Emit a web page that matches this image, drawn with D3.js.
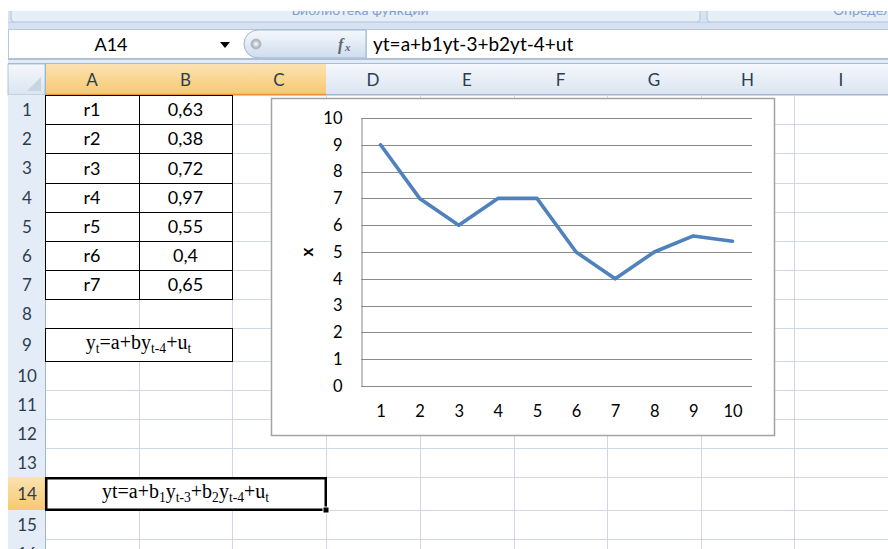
<!DOCTYPE html>
<html>
<head>
<meta charset="utf-8">
<script src="https://cdn.jsdelivr.net/npm/d3@7"></script>
<style>
  html, body { margin: 0; padding: 0; background: #fff; }
  svg { display: block; }
  .ui { font-family: Lato, "Noto Sans", sans-serif; }
</style>
</head>
<body>
<svg id="sheet" width="888" height="549"></svg>
<script>
// ---- sheet content ----
const rLabels = ["r1", "r2", "r3", "r4", "r5", "r6", "r7"];
const rValues = [0.63, 0.38, 0.72, 0.97, 0.55, 0.4, 0.65];
const nameBox = "A14";
const formulaText = "yt=a+b1yt-3+b2yt-4+ut";
// rich-text cell formulas: [text, isSubscript]
const formulaRow9 = [["y", 0], ["t", 1], ["=a+by", 0], ["t-4", 1], ["+u", 0], ["t", 1]];
const formulaRow14 = [["yt=a+b", 0], ["1", 1], ["y", 0], ["t-3", 1], ["+b", 0], ["2", 1], ["y", 0], ["t-4", 1], ["+u", 0], ["t", 1]];

// ---- chart series ----
const periods = [1, 2, 3, 4, 5, 6, 7, 8, 9, 10];
const xValues = [9, 7, 6, 7, 7, 5, 4, 5, 5.6, 5.4];
const yTicks = [0, 1, 2, 3, 4, 5, 6, 7, 8, 9, 10];
const yAxisTitle = "x";

// ---- grid geometry ----
const colNames = ["A", "B", "C", "D", "E", "F", "G", "H", "I"];
const colEdges = [45, 139, 232, 326, 420, 514, 607, 701, 794, 888];
const rowEdges = [95, 124, 153, 183, 212, 241, 270, 299, 328, 361, 390, 419, 448, 477, 510, 539, 568];
const selCols = ["A", "B", "C"];
const selRow = 14;

const svg = d3.select("#sheet");
const defs = svg.append("defs");

function vGrad(id, stops) {
  const g = defs.append("linearGradient").attr("id", id)
    .attr("x1", 0).attr("y1", 0).attr("x2", 0).attr("y2", 1);
  stops.forEach(([o, c]) => g.append("stop").attr("offset", o).attr("stop-color", c));
}
vGrad("hdr", [[0, "#f5f8fc"], [1, "#dae4f1"]]);
vGrad("hdrSel", [[0, "#fbe2b1"], [1, "#f7c970"]]);
vGrad("bubble", [[0, "#f4f8fd"], [0.5, "#e2ebf6"], [1, "#cddcee"]]);
vGrad("ribbon", [[0, "#dfe9f6"], [1, "#d2dff0"]]);
const dotG = defs.append("radialGradient").attr("id", "dot");
dotG.append("stop").attr("offset", 0).attr("stop-color", "#ffffff");
dotG.append("stop").attr("offset", 1).attr("stop-color", "#9aa3ad");

defs.append("clipPath").attr("id", "ribbonClip")
  .append("rect").attr("x", 0).attr("y", 11).attr("width", 888).attr("height", 12);

// ---- ribbon remnant ----
const ribbon = svg.append("g").attr("clip-path", "url(#ribbonClip)");
ribbon.append("rect").attr("x", 8).attr("y", 0).attr("width", 880).attr("height", 30).attr("fill", "url(#ribbon)");
ribbon.append("rect").attr("x", 11).attr("y", -10).attr("width", 689).attr("height", 32).attr("rx", 3)
  .attr("fill", "#e6eef8").attr("stroke", "#aec3dc");
ribbon.append("rect").attr("x", 707).attr("y", -10).attr("width", 200).attr("height", 32).attr("rx", 3)
  .attr("fill", "#e6eef8").attr("stroke", "#aec3dc");
ribbon.append("text").attr("class", "ui").attr("x", 360).attr("y", 15).attr("text-anchor", "middle")
  .attr("font-size", 14).attr("fill", "#7f9fd0").text("Библиотека функций");
ribbon.append("text").attr("class", "ui").attr("x", 833).attr("y", 15)
  .attr("font-size", 14).attr("fill", "#7f9fd0").text("Определенные имена");

svg.append("rect").attr("x", 8).attr("y", 22).attr("width", 880).attr("height", 8).attr("fill", "#d6e2f1");
svg.append("line").attr("x1", 8).attr("x2", 888).attr("y1", 22.5).attr("y2", 22.5).attr("stroke", "#c3d3e7");

// ---- formula bar ----
svg.append("rect").attr("x", 8).attr("y", 29).attr("width", 880).attr("height", 30).attr("fill", "#fff");
svg.append("line").attr("x1", 8).attr("x2", 888).attr("y1", 29.5).attr("y2", 29.5).attr("stroke", "#b8c9de");
svg.append("line").attr("x1", 8.5).attr("x2", 8.5).attr("y1", 29).attr("y2", 549).attr("stroke", "#b8c9de");
svg.append("text").attr("class", "ui").attr("x", 111).attr("y", 51).attr("text-anchor", "middle")
  .attr("font-size", 18).attr("fill", "#000").text(nameBox);
svg.append("path").attr("d", "M220,42 L230,42 L225,48 Z").attr("fill", "#000");
// expander bubble with fx button
svg.append("path")
  .attr("d", "M258,30 L366,30 L366,58 L258,58 A14,14 0 0 1 258,30 Z")
  .attr("fill", "url(#bubble)").attr("stroke", "#9fb6d2");
svg.append("circle").attr("cx", 256).attr("cy", 44).attr("r", 5).attr("fill", "url(#dot)").attr("stroke", "#b4bcc6");
svg.append("text").attr("x", 338).attr("y", 50).attr("font-family", "Liberation Serif, serif")
  .attr("font-style", "italic").attr("font-weight", "bold").attr("font-size", 16).attr("fill", "#5f6770")
  .text("f");
svg.append("text").attr("x", 345).attr("y", 51).attr("font-family", "Liberation Serif, serif")
  .attr("font-style", "italic").attr("font-weight", "bold").attr("font-size", 11).attr("fill", "#5f6770").text("x");
svg.append("line").attr("x1", 366.5).attr("x2", 366.5).attr("y1", 30).attr("y2", 58).attr("stroke", "#b3c4da");
svg.append("text").attr("class", "ui").attr("x", 373).attr("y", 51)
  .attr("font-size", 19).attr("fill", "#000").text(formulaText);

svg.append("rect").attr("x", 8).attr("y", 58).attr("width", 880).attr("height", 7).attr("fill", "#e3ebf6");
svg.append("line").attr("x1", 8).attr("x2", 888).attr("y1", 59).attr("y2", 59).attr("stroke", "#9db3cf").attr("stroke-width", 1.5);
svg.append("line").attr("x1", 8).attr("x2", 888).attr("y1", 63.5).attr("y2", 63.5).attr("stroke", "#a9bcd4");

// ---- cell gridlines ----
const grid = svg.append("g");
const gridTop = rowEdges[0], gridBottom = 549;
colEdges.forEach(x => grid.append("line").attr("x1", x + 0.5).attr("x2", x + 0.5)
  .attr("y1", gridTop).attr("y2", gridBottom).attr("stroke", "#d0d7e5"));
rowEdges.forEach(y => grid.append("line").attr("x1", colEdges[0]).attr("x2", 888)
  .attr("y1", y + 0.5).attr("y2", y + 0.5).attr("stroke", "#d0d7e5"));

// ---- column headers ----
const hdrTop = 64, hdrBot = rowEdges[0];
svg.append("rect").attr("x", 8).attr("y", hdrTop).attr("width", 37).attr("height", hdrBot - hdrTop)
  .attr("fill", "url(#hdr)").attr("stroke", "#9eb6ce").attr("stroke-width", 0.8);
svg.append("path").attr("d", `M41,${hdrBot - 4} L41,${hdrBot - 18} L27,${hdrBot - 4} Z`).attr("fill", "#c9d4e1");
colNames.forEach((c, i) => {
  const x0 = colEdges[i], x1 = colEdges[i + 1];
  const sel = selCols.includes(c);
  svg.append("rect").attr("x", x0).attr("y", hdrTop).attr("width", x1 - x0).attr("height", hdrBot - hdrTop)
    .attr("fill", sel ? "url(#hdrSel)" : "url(#hdr)");
  svg.append("line").attr("x1", x1 + 0.5).attr("x2", x1 + 0.5).attr("y1", hdrTop).attr("y2", hdrBot)
    .attr("stroke", sel ? "#f29436" : "#9eb6ce");
  svg.append("line").attr("x1", x0).attr("x2", x1).attr("y1", hdrBot - 0.5).attr("y2", hdrBot - 0.5)
    .attr("stroke", sel ? "#f29436" : "#9eb6ce").attr("stroke-width", sel ? 1.5 : 1);
  svg.append("text").attr("class", "ui").attr("x", (x0 + x1) / 2).attr("y", hdrTop + 22)
    .attr("text-anchor", "middle").attr("font-size", 17).attr("fill", "#2c3d51").text(c);
});

// ---- row headers ----
for (let r = 1; r < rowEdges.length; r++) {
  const y0 = rowEdges[r - 1], y1 = rowEdges[r];
  const sel = r === selRow;
  svg.append("rect").attr("x", 8).attr("y", y0).attr("width", 37).attr("height", y1 - y0)
    .attr("fill", sel ? "url(#hdrSel)" : "#e4ecf7");
  svg.append("line").attr("x1", 8).attr("x2", 45).attr("y1", y1 + 0.5).attr("y2", y1 + 0.5)
    .attr("stroke", sel ? "#f29436" : "#9eb6ce");
  svg.append("text").attr("class", "ui").attr("x", 27).attr("y", (y0 + y1) / 2 + 6)
    .attr("text-anchor", "middle").attr("font-size", 17).attr("fill", "#2c3d51").text(r);
}
svg.append("line").attr("x1", 45.5).attr("x2", 45.5).attr("y1", hdrTop).attr("y2", 549).attr("stroke", "#9eb6ce");
svg.append("line").attr("x1", 45.5).attr("x2", 45.5).attr("y1", rowEdges[selRow - 1]).attr("y2", rowEdges[selRow])
  .attr("stroke", "#f29436").attr("stroke-width", 1.5);

// ---- table A1:B7 ----
const fmt = v => String(v).replace(".", ",");
const table = svg.append("g");
rLabels.forEach((lab, i) => {
  const y0 = rowEdges[i], y1 = rowEdges[i + 1];
  table.append("text").attr("class", "ui").attr("x", (colEdges[0] + colEdges[1]) / 2).attr("y", (y0 + y1) / 2 + 6.5)
    .attr("text-anchor", "middle").attr("font-size", 18).text(lab);
  table.append("text").attr("class", "ui").attr("x", (colEdges[1] + colEdges[2]) / 2).attr("y", (y0 + y1) / 2 + 6.5)
    .attr("text-anchor", "middle").attr("font-size", 18).text(fmt(rValues[i]));
});
for (let i = 0; i <= rLabels.length; i++) {
  table.append("line").attr("x1", colEdges[0]).attr("x2", colEdges[2] + 1)
    .attr("y1", rowEdges[i] + 0.5).attr("y2", rowEdges[i] + 0.5).attr("stroke", "#000");
}
[0, 1, 2].forEach(c => table.append("line").attr("x1", colEdges[c] + 0.5).attr("x2", colEdges[c] + 0.5)
  .attr("y1", rowEdges[0]).attr("y2", rowEdges[rLabels.length] + 1).attr("stroke", "#000"));

// ---- rich text formula cells ----
function richText(parts, cx, baseY, size) {
  const t = svg.append("text").attr("x", cx).attr("y", baseY).attr("text-anchor", "middle")
    .attr("font-family", "Liberation Serif, 'Times New Roman', serif").attr("font-size", size);
  let shift = 0;
  parts.forEach(([s, sub]) => {
    const target = sub ? 4 : 0;
    t.append("tspan").attr("dy", target - shift).attr("font-size", sub ? size * 0.68 : size).text(s);
    shift = target;
  });
  return t;
}
// A9:B9
svg.append("rect").attr("x", colEdges[0] + 0.5).attr("y", rowEdges[8] + 0.5)
  .attr("width", colEdges[2] - colEdges[0]).attr("height", rowEdges[9] - rowEdges[8])
  .attr("fill", "#fff").attr("stroke", "#000");
richText(formulaRow9, (colEdges[0] + colEdges[2]) / 2, (rowEdges[8] + rowEdges[9]) / 2 + 4, 20);
// A14:C14 (selected)
svg.append("rect").attr("x", colEdges[0] + 0.5).attr("y", rowEdges[13] + 0.5)
  .attr("width", colEdges[3] - colEdges[0]).attr("height", rowEdges[14] - rowEdges[13])
  .attr("fill", "#fff").attr("stroke", "#000");
richText(formulaRow14, (colEdges[0] + colEdges[3]) / 2, (rowEdges[13] + rowEdges[14]) / 2 + 4, 20);
svg.append("rect").attr("x", colEdges[0] + 1.5).attr("y", rowEdges[13] + 1.5)
  .attr("width", colEdges[3] - colEdges[0] - 2).attr("height", rowEdges[14] - rowEdges[13] - 2)
  .attr("fill", "none").attr("stroke", "#000").attr("stroke-width", 2);
svg.append("rect").attr("x", colEdges[3] - 3).attr("y", rowEdges[14] - 3).attr("width", 6).attr("height", 6)
  .attr("fill", "#000").attr("stroke", "#fff");

// ---- embedded line chart ----
const box = { x: 271, y: 98, w: 503, h: 337 };
const plot = { left: 361, right: 752, top: 118, bottom: 386 };
const chart = svg.append("g");
chart.append("rect").attr("x", box.x + 0.5).attr("y", box.y + 0.5).attr("width", box.w).attr("height", box.h)
  .attr("fill", "#fff").attr("stroke", "#a3a3a3").attr("stroke-width", 1.5);

const x = d3.scalePoint().domain(periods).range([plot.left, plot.right]).padding(0.5);
const y = d3.scaleLinear().domain([0, 10]).range([plot.bottom, plot.top]);

// horizontal gridlines
chart.append("g").selectAll("line").data(yTicks.filter(d => d > 0)).join("line")
  .attr("x1", plot.left).attr("x2", plot.right)
  .attr("y1", d => Math.round(y(d)) + 0.5).attr("y2", d => Math.round(y(d)) + 0.5)
  .attr("stroke", "#8a8a8a").attr("stroke-width", 1);

// value axis
const yAxis = chart.append("g").attr("transform", `translate(${plot.left + 0.5},0)`)
  .call(d3.axisLeft(y).tickValues(yTicks).tickSize(0).tickPadding(19));
yAxis.select(".domain").attr("stroke", "#8a8a8a");
yAxis.selectAll("text").attr("font-family", "Lato, 'Noto Sans', sans-serif").attr("font-size", 16.5).attr("fill", "#000");

// category axis
const xAxis = chart.append("g").attr("transform", `translate(0,${Math.round(plot.bottom) + 0.5})`)
  .call(d3.axisBottom(x).tickSize(0).tickPadding(19));
xAxis.select(".domain").attr("stroke", "#8a8a8a").attr("d", `M${plot.left},0H${plot.right}`);
xAxis.selectAll("text").attr("font-family", "Lato, 'Noto Sans', sans-serif").attr("font-size", 16.5).attr("fill", "#000");

chart.append("text").attr("transform", `translate(313,${(plot.top + plot.bottom) / 2}) rotate(-90)`)
  .attr("text-anchor", "middle").attr("font-family", "Lato, 'Noto Sans', sans-serif")
  .attr("font-weight", "bold").attr("font-size", 17).text(yAxisTitle);

const line = d3.line().x((d, i) => x(periods[i])).y(d => y(d));
chart.append("path").datum(xValues).attr("d", line)
  .attr("fill", "none").attr("stroke", "#4f81bd").attr("stroke-width", 3.6)
  .attr("stroke-linejoin", "round").attr("stroke-linecap", "round");
</script>
</body>
</html>
